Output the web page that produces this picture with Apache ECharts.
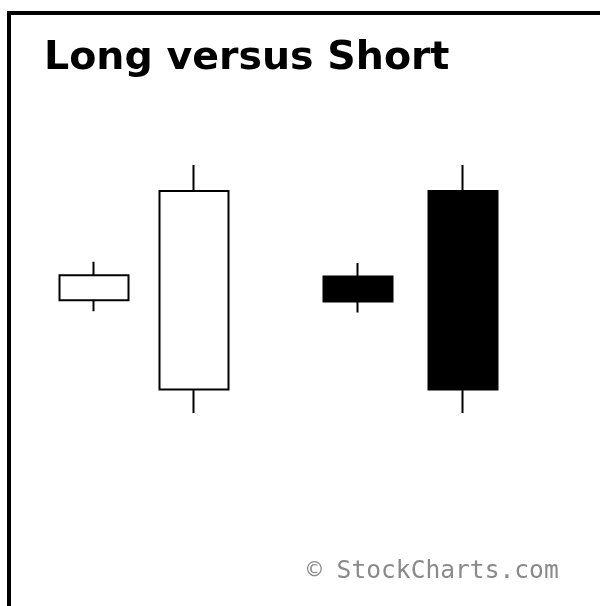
<!DOCTYPE html>
<html>
<head>
<meta charset="utf-8">
<script src="https://cdn.jsdelivr.net/npm/echarts@6/dist/echarts.min.js"></script>
<style>
  html, body { margin: 0; padding: 0; background: #fff; }
  #chart { width: 600px; height: 606px; }
</style>
</head>
<body>
<div id="chart"></div>
<script>
// candle positions along the x axis, and [open, close, low, high]
var names = ['Short white', 'Long white', 'Short black', 'Long black'];
var xPos = [1, 2, 3.64, 4.69];
var opens = [45.5, 9.5, 55, 89.5];
var closes = [55.5, 89.5, 45, 9.5];
var lows = [41, 0, 40.5, 0];
var highs = [61, 100, 60.5, 100];

var chartDom = document.getElementById('chart');
var myChart = echarts.init(chartDom, null, { renderer: 'canvas' });
var option;

var candles = xPos.map(function (x, i) {
    return [x, opens[i], closes[i], lows[i], highs[i]];
});

option = {
    backgroundColor: '#fff',
    animation: false,
    title: {
        text: 'Long versus Short',
        left: 39,
        top: 34,
        textStyle: {
            fontFamily: 'DejaVu Sans',
            fontWeight: 'bold',
            fontSize: 39.5,
            color: '#000'
        }
    },
    graphic: [
        {
            // frame around the panel
            type: 'rect',
            shape: { x: 9, y: 13, width: 700, height: 700 },
            style: { fill: null, stroke: '#000', lineWidth: 4 }
        },
        {
            type: 'text',
            left: 307,
            top: 559,
            style: {
                text: '\u00a9 StockCharts.com',
                font: '24.6px "DejaVu Sans Mono"',
                fill: '#8a8a8a'
            }
        }
    ],
    grid: {
        left: 44,
        right: 56,
        top: 165,
        bottom: 193
    },
    xAxis: {
        type: 'value',
        min: 0.5,
        max: 5.5,
        show: false
    },
    yAxis: {
        type: 'value',
        min: 0,
        max: 100,
        show: false
    },
    series: [
        {
            name: 'candles',
            type: 'candlestick',
            data: candles,
            encode: { x: 0, y: [1, 2, 3, 4] },
            barWidth: 70,
            itemStyle: {
                color: '#fff',
                color0: '#000',
                borderColor: '#000',
                borderColor0: '#000',
                borderWidth: 2
            }
        }
    ]
};

option && myChart.setOption(option);
</script>
</body>
</html>
